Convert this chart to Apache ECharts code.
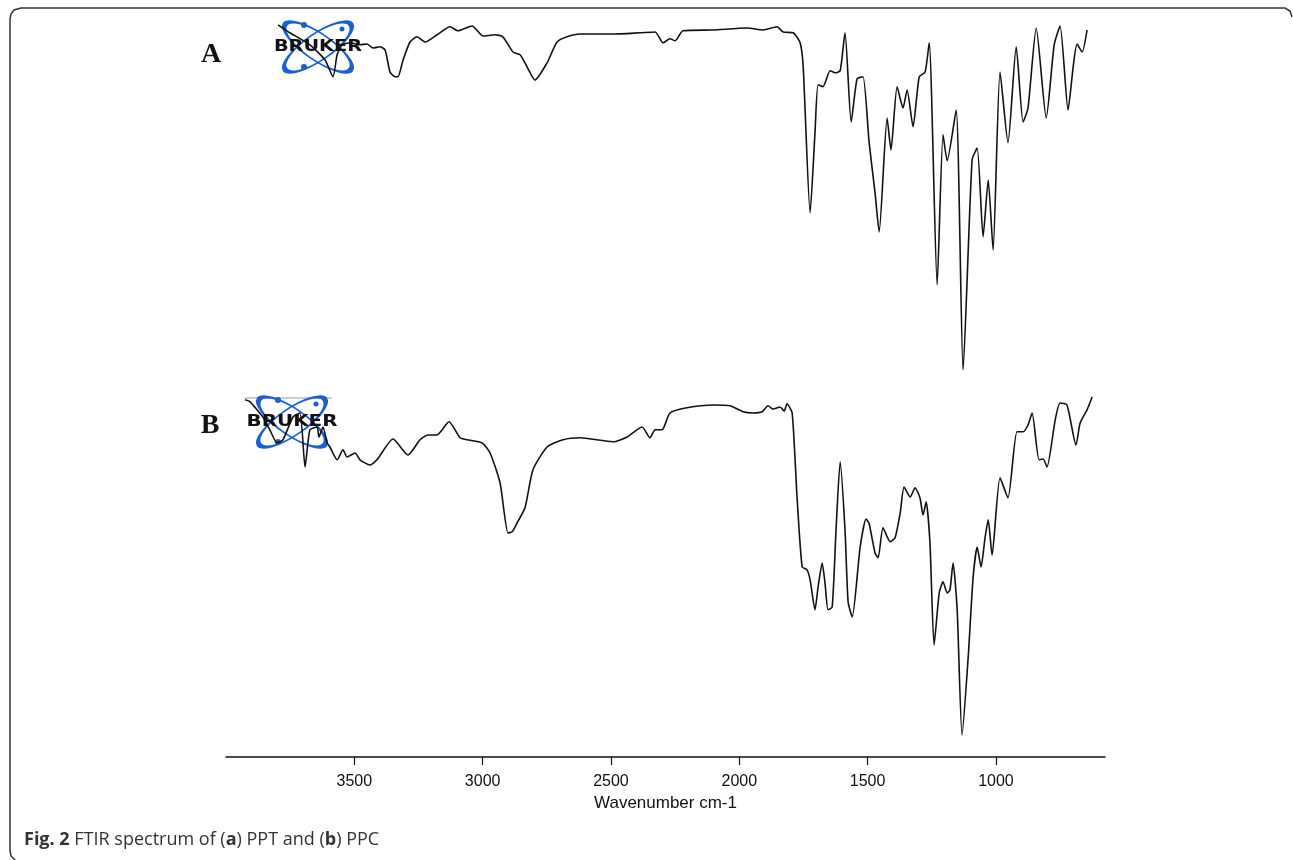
<!DOCTYPE html>
<html>
<head>
<meta charset="utf-8">
<title>FTIR spectrum</title>
<script src="https://cdn.jsdelivr.net/npm/echarts@6/dist/echarts.min.js"></script>
<style>
    html, body { margin: 0; padding: 0; background: #fff; }
    #chart { width: 1293px; height: 860px; }
</style>
</head>
<body>
<div id="chart"></div>
<script>
// spectrum (a) PPT - wavenumber (cm-1) and transmittance (arbitrary units)
var waveA = [3797, 3751, 3673, 3614, 3583, 3567, 3548, 3517, 3478, 3451, 3427, 3400, 3380, 3361, 3341, 3330,
    3310, 3283, 3256, 3224, 3178, 3127, 3096, 3041, 2998, 2952, 2921, 2882, 2854, 2827, 2796, 2749, 2710, 2671,
    2620, 2492, 2387, 2328, 2297, 2270, 2250, 2219, 2102, 1970, 1907, 1853, 1829, 1790, 1763, 1751, 1724, 1705,
    1693, 1674, 1646, 1627, 1607, 1588, 1564, 1541, 1518, 1494, 1471, 1455, 1424, 1409, 1385, 1362, 1346, 1323,
    1299, 1276, 1260, 1229, 1206, 1190, 1155, 1128, 1093, 1073, 1050, 1030, 1011, 984, 953, 921, 894, 875, 843,
    804, 773, 750, 719, 699, 684, 664, 645];
var transA = [88.8, 86.8, 83.8, 80, 75.8, 81.3, 83.8, 84.3, 83.8, 84, 83, 83.3, 82.5, 77, 75.8, 75.8,
    80, 84.5, 85.8, 84.5, 86.3, 88.3, 87.3, 88.5, 86, 86.3, 85.8, 82, 81.3, 78.3, 75, 79.3, 84.5, 85.8,
    86.5, 86.5, 86.8, 87, 84.3, 85.3, 84.8, 87.3, 87.5, 88, 87.5, 88.3, 87, 86.8, 84.3, 78.3, 41.8, 61.8,
    73.8, 73.3, 77.3, 76.8, 77.3, 86.8, 64.5, 75.3, 75.8, 59.3, 46.8, 37, 65.5, 57.5, 73.3, 68, 72.5, 63.3,
    75.8, 77, 84.3, 23.8, 61.3, 54.8, 67.5, 2.5, 55, 58, 35.8, 50, 32.5, 77, 59.3, 83.3, 64.5, 68, 88,
    65.5, 83.8, 88.5, 67.5, 78.3, 84, 82, 87.5];

// spectrum (b) PPC
var waveB = [3926, 3906, 3879, 3856, 3829, 3801, 3778, 3739, 3712, 3692, 3673, 3645, 3638, 3622, 3606, 3595,
    3567, 3544, 3528, 3497, 3478, 3439, 3412, 3349, 3291, 3244, 3213, 3178, 3131, 3088, 3061, 3002, 2971, 2932,
    2901, 2885, 2866, 2835, 2804, 2749, 2687, 2620, 2492, 2437, 2379, 2348, 2328, 2301, 2270, 2204, 2102, 2036,
    1985, 1946, 1911, 1888, 1868, 1841, 1825, 1814, 1794, 1775, 1755, 1736, 1724, 1705, 1693, 1677, 1666, 1654,
    1638, 1623, 1607, 1588, 1576, 1560, 1529, 1506, 1494, 1471, 1459, 1440, 1412, 1393, 1373, 1358, 1334, 1315,
    1296, 1284, 1272, 1257, 1241, 1221, 1206, 1190, 1179, 1167, 1151, 1132, 1108, 1089, 1073, 1058, 1042, 1030,
    1015, 984, 953, 918, 894, 875, 859, 832, 816, 801, 769, 750, 723, 688, 672, 645, 625];
var transB = [89.3, 88.8, 86.8, 85, 81.8, 78.5, 79.3, 85, 86, 72.5, 81.8, 82.5, 80, 82.5, 78.5, 77.5,
    74.3, 76.8, 75, 76, 74.3, 73, 74.3, 79.5, 75.5, 79.3, 80.5, 80.5, 83.8, 79.8, 79.3, 78.5, 76, 68.5,
    56, 56.3, 58.5, 62.3, 71.8, 77.5, 79.3, 79.8, 78.8, 80, 82.5, 79.8, 81.8, 81.8, 86, 87.3, 88, 87.8,
    86.3, 86, 86.3, 87.8, 87, 87.5, 86.5, 88.3, 86, 65, 47.5, 46.8, 44.3, 36.8, 42.5, 48.5, 43.5, 36.8,
    37.5, 56.8, 73.8, 56.8, 38.8, 35, 52.5, 59.5, 58.3, 51, 49.8, 57.3, 53.8, 54.8, 61, 67.5, 65, 67.3,
    64.8, 60.5, 63.8, 53.5, 28, 41, 43.8, 41, 41.8, 48.5, 36.8, 5.5, 25, 44.8, 52.5, 47.5, 55, 59.3,
    50.5, 69.8, 64.8, 81.3, 81.3, 83, 86, 74.3, 74.5, 72.5, 84.3, 88.5, 88, 78, 83.5, 86.8, 90];

var tickValues = [3500, 3000, 2500, 2000, 1500, 1000];
var panelLabels = ['A', 'B'];
var captionText = '{b|Fig. 2} FTIR spectrum of ({b|a}) PPT and ({b|b}) PPC';
var axisTitle = 'Wavenumber cm-1';

function zip(xs, ys) {
    return xs.map(function (x, i) { return [x, ys[i]]; });
}

// the Bruker logo stamp pasted over each spectrum (orbits = squashed circles)
function orbit(rot) {
    return {
        type: 'group', rotation: rot,
        children: [{
            type: 'circle', scaleY: 0.33, shape: { cx: 0, cy: 0, r: 40 },
            style: { fill: 'none', stroke: '#1c5fcf', lineWidth: 3, strokeNoScale: true }
        }]
    };
}
function brukerLogo(cx, cy, textW, withRule) {
    var blue = '#1c5fcf';
    var children = [
        orbit(0.6),
        orbit(-0.6),
        { type: 'circle', shape: { cx: -14, cy: -22, r: 3 }, style: { fill: blue } },
        { type: 'circle', shape: { cx: -14, cy: 20, r: 3 }, style: { fill: blue } },
        { type: 'circle', shape: { cx: 24, cy: -18, r: 2.5 }, style: { fill: blue } },
        {
            type: 'text', scaleX: textW / 78, style: {
                text: 'BRUKER', x: 0, y: 0, align: 'center', verticalAlign: 'middle',
                font: '900 16px "DejaVu Sans"', fill: '#111'
            }
        }
    ];
    if (withRule) {
        children.unshift({ type: 'line', shape: { x1: -47, y1: -24, x2: 40, y2: -24 }, style: { stroke: '#999', lineWidth: 1 } });
    }
    return { type: 'group', x: cx, y: cy, z: 10, children: children };
}

var chart = echarts.init(document.getElementById('chart'));

var xBase = {
    type: 'value',
    min: 575,
    max: 4000,
    inverse: true,
    splitLine: { show: false }
};

var option = {
    animation: false,
    backgroundColor: '#fff',
    title: {
        text: captionText,
        left: 19,
        top: 826,
        textStyle: {
            fontFamily: 'Open Sans',
            fontSize: 18,
            fontWeight: 'normal',
            color: '#333',
            rich: {
                b: { fontFamily: 'Open Sans', fontSize: 18, fontWeight: 'bold', color: '#333' }
            }
        }
    },
    grid: [
        { left: 226, right: 188, top: 20, height: 360 },
        { left: 226, right: 188, top: 397, height: 360 }
    ],
    xAxis: [
        Object.assign({}, xBase, { gridIndex: 0, show: false }),
        Object.assign({}, xBase, {
            gridIndex: 1,
            name: axisTitle,
            nameLocation: 'middle',
            nameGap: 38,
            nameTextStyle: { fontFamily: 'Liberation Sans', fontSize: 17, color: '#111' },
            axisLine: { lineStyle: { color: '#111', width: 1.5 } },
            axisTick: { length: 8, lineStyle: { color: '#111', width: 1.2 }, customValues: tickValues },
            axisLabel: {
                fontFamily: 'Liberation Sans', fontSize: 16, color: '#111', margin: 17,
                customValues: tickValues,
                formatter: function (v) { return String(v); }
            }
        })
    ],
    yAxis: [
        { type: 'value', gridIndex: 0, min: 0, max: 90, show: false },
        { type: 'value', gridIndex: 1, min: 0, max: 90, show: false }
    ],
    graphic: [
        // figure frame: top edge and left edge with rounded corners
        {
            type: 'polyline', z: 5,
            shape: { points: [[1292, 17], [1290, 11], [1285, 8], [21, 8], [14, 10], [11, 14], [10, 19], [10, 851], [11, 856], [15, 860]] },
            style: { fill: 'none', stroke: '#333', lineWidth: 1.5 }
        },
        { type: 'text', z: 10, style: { text: panelLabels[0], x: 211, y: 55, align: 'center', verticalAlign: 'middle', font: 'bold 28px "Liberation Serif"', fill: '#111' } },
        { type: 'text', z: 10, style: { text: panelLabels[1], x: 210, y: 426, align: 'center', verticalAlign: 'middle', font: 'bold 28px "Liberation Serif"', fill: '#111' } },
        brukerLogo(318, 47, 94, false),
        brukerLogo(292, 422, 97, true)
    ],
    series: [
        {
            name: 'PPT', type: 'line', xAxisIndex: 0, yAxisIndex: 0,
            data: zip(waveA, transA), showSymbol: false, smooth: 0.2, clip: false,
            lineStyle: { color: '#111', width: 1.6 }
        },
        {
            name: 'PPC', type: 'line', xAxisIndex: 1, yAxisIndex: 1,
            data: zip(waveB, transB), showSymbol: false, smooth: 0.2, clip: false,
            lineStyle: { color: '#111', width: 1.6 }
        }
    ]
};

chart.setOption(option);
</script>
</body>
</html>
